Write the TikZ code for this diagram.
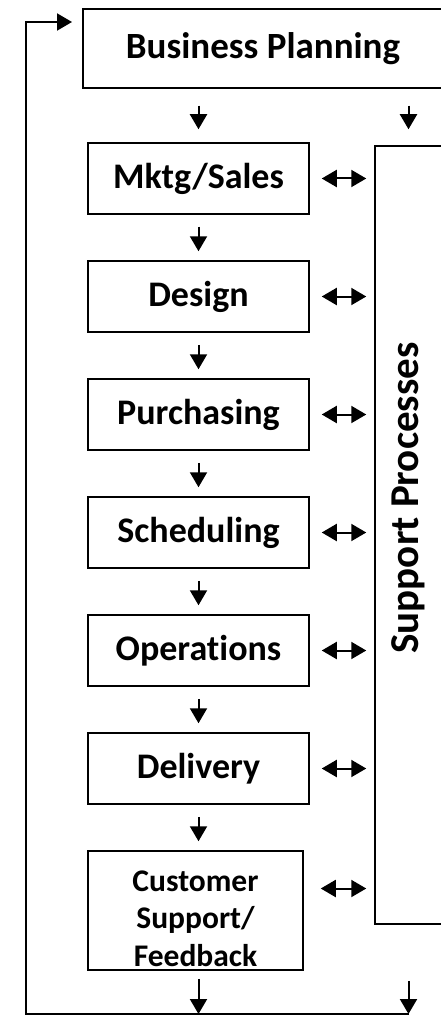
\documentclass[tikz,border=0pt]{standalone}
\usepackage{fontspec}
\setmainfont{Carlito}[Ligatures=NoCommon]
\usetikzlibrary{arrows.meta,positioning}

\begin{document}
\begin{tikzpicture}[x=1pt,y=-1pt,>={Triangle[length=15pt,width=17pt]},
line width=2pt,node distance=45.5pt]

\tikzstyle{proc}=[draw,line width=1.5pt,minimum width=221pt,minimum height=71pt,
  inner sep=0pt,font=\bfseries\fontsize{36}{43}\selectfont]
\tikzstyle{down}=[->,shorten <=12pt,shorten >=9pt]
\tikzstyle{link}=[<->,shorten <=12pt,shorten >=8pt]

\useasboundingbox (0,0) rectangle (441,1016);

% top box and the column of steps
\node[proc,minimum width=360pt,minimum height=79pt,font=\bfseries\fontsize{37}{44}\selectfont]
  (plan) at (263,48.5) {Business Planning};
\node[proc] (mktg) at (198.5,178.5) {Mktg/Sales};
\node[proc] (design)   [below=of mktg]     {Design};
\node[proc] (purch)    [below=of design]   {Purchasing};
\node[proc] (sched)    [below=of purch]    {Scheduling};
\node[proc] (ops)      [below=of sched]    {Operations};
\node[proc] (deliv)    [below=of ops]      {Delivery};
\node[proc,minimum width=215pt,minimum height=119pt] (cust)
  [below=of deliv,xshift=-3pt] {};
\node[align=center,inner sep=0pt,font=\bfseries\fontsize{31.5}{37.5}\selectfont]
  at ([yshift=-8pt]cust.center) {Customer\\Support/\\Feedback};

% support bar on the right
\node[draw,line width=1.5pt,minimum width=67pt,minimum height=778pt] (support) at (408.5,535) {};
\node[rotate=90,font=\bfseries\fontsize{41}{48}\selectfont] at (408,498) {Support Processes};

\coordinate (base) at (26,1014);
\coordinate (back) at (72,22);

\draw[->,shorten <=17pt,shorten >=13pt] (plan.south -| mktg.north) -- (mktg.north);
\draw[->,shorten <=17pt,shorten >=16pt] (plan.south -| support.north) -- (support.north);

\draw[down] (mktg) -- (mktg |- design.north);
\draw[down] (design) -- (purch);
\draw[down] (purch) -- (sched);
\draw[down] (sched) -- (ops);
\draw[down] (ops) -- (deliv);
\draw[down] (deliv) -- (deliv |- cust.north);

\foreach \n in {mktg,design,purch,sched,ops,deliv}
  \draw[link] (\n.east) -- (\n.east -| support.west);
\draw[link] (cust.east) ++(5pt,22pt) coordinate (c) -- (c -| support.west);

% feedback loop back to planning
\draw[->,shorten <=8pt] (cust.south -| deliv.south) -- (deliv.south |- base);
\draw[->,shorten <=56pt] (support.south) -- (support.south |- base);
\draw[->,line width=2pt] (support.south |- base) -- (base) |- (back);
\end{tikzpicture}
\end{document}
